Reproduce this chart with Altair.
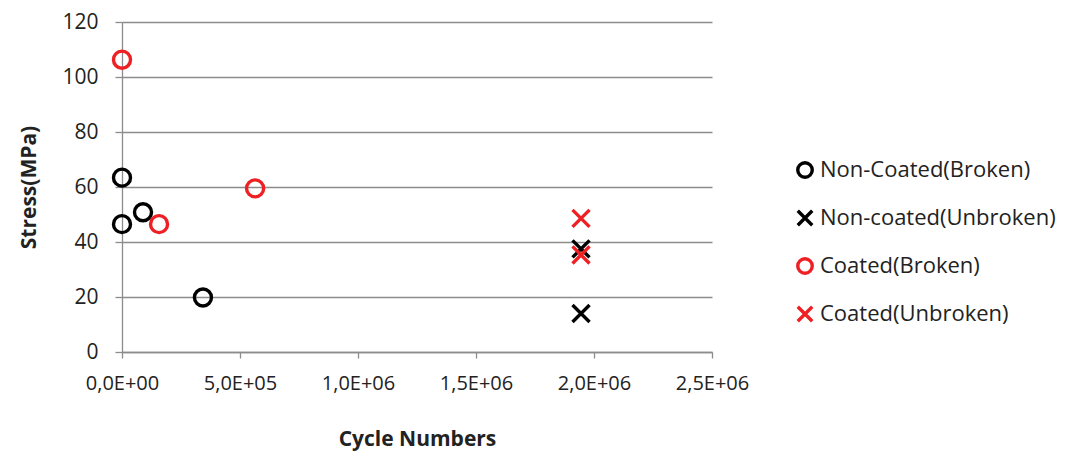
import altair as alt
import pandas as pd

series_names = ["Non-Coated(Broken)", "Non-coated(Unbroken)", "Coated(Broken)", "Coated(Unbroken)"]
series_colors = ["#000000", "#000000", "#ee2024", "#ee2024"]

nc_broken_x = [0, 0, 89000, 343000]
nc_broken_y = [63.4, 46.5, 50.8, 19.8]
nc_unbroken_x = [1945000, 1945000]
nc_unbroken_y = [37.5, 14.0]
c_broken_x = [0, 157000, 564000]
c_broken_y = [106.3, 46.5, 59.5]
c_unbroken_x = [1945000, 1945000]
c_unbroken_y = [48.6, 35.3]

x_tick_values = [0, 500000, 1000000, 1500000, 2000000, 2500000]
x_tick_labels = ["0,0E+00", "5,0E+05", "1,0E+06", "1,5E+06", "2,0E+06", "2,5E+06"]
y_tick_values = [0, 20, 40, 60, 80, 100, 120]

rows = []
for name, xs, ys in [
    (series_names[0], nc_broken_x, nc_broken_y),
    (series_names[1], nc_unbroken_x, nc_unbroken_y),
    (series_names[2], c_broken_x, c_broken_y),
    (series_names[3], c_unbroken_x, c_unbroken_y),
]:
    for xv, yv in zip(xs, ys):
        rows.append({"cycles": xv, "stress": yv, "series": name})
df = pd.DataFrame(rows)

circle = "circle"
xshape = "M-1,-1L1,1M1,-1L-1,1"
shapes = [circle, xshape, circle, xshape]

label_expr = "[" + ",".join("'" + s + "'" for s in x_tick_labels) + "][round(datum.value/500000)]"

FONT = "Open Sans"

chart = alt.Chart(df).mark_point(filled=False, strokeWidth=3.4, size=290, opacity=1).encode(
    x=alt.X("cycles:Q",
            scale=alt.Scale(domain=[0, 2500000], nice=False),
            axis=alt.Axis(title="Cycle Numbers", values=x_tick_values, labelExpr=label_expr,
                          grid=False, tickSize=6, labelPadding=15, labelFontSize=20,
                          titlePadding=35, labelFlush=False)),
    y=alt.Y("stress:Q",
            scale=alt.Scale(domain=[0, 120], nice=False),
            axis=alt.Axis(title="Stress(MPa)", values=y_tick_values, grid=True,
                          tickSize=7, labelPadding=17, labelFontSize=21, titlePadding=22)),
    color=alt.Color("series:N", scale=alt.Scale(domain=series_names, range=series_colors),
                    legend=alt.Legend(title=None, orient="none", legendX=672, legendY=137)),
    shape=alt.Shape("series:N", scale=alt.Scale(domain=series_names, range=shapes)),
).properties(
    width=590, height=330,
    padding={"left": 114, "top": 14, "right": 354, "bottom": 100},
    autosize=alt.AutoSizeParams(type="none"),
).configure_view(stroke=None).configure_axis(
    domainColor="#8c8c8c", tickColor="#8c8c8c", gridColor="#8c8c8c",
    domainWidth=1.3, tickWidth=1.3, gridWidth=1.3,
    labelFont=FONT, labelColor="#222222",
    titleFont=FONT, titleFontSize=21, titleFontWeight="bold", titleColor="#222222",
).configure_legend(
    labelFont=FONT, labelFontSize=22, labelColor="#222222",
    symbolSize=210, symbolStrokeWidth=3.4, rowPadding=18, padding=0, labelOffset=4,
    labelLimit=400,
)

chart.save("out.html", embed_options={"renderer": "svg", "actions": False})
